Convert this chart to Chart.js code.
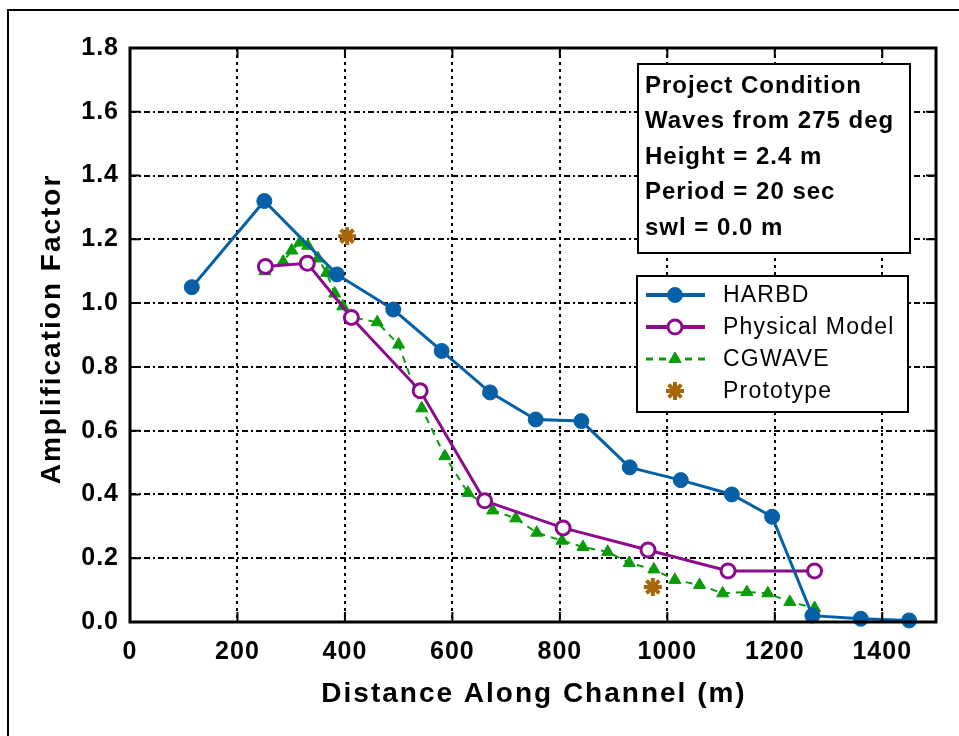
<!DOCTYPE html>
<html>
<head>
<meta charset="utf-8">
<script src="https://cdn.jsdelivr.net/npm/chart.js@4.4.1/dist/chart.umd.min.js"></script>
<style>
  html, body { margin: 0; padding: 0; background: #fff; overflow: hidden; }
  #wrap { position: relative; width: 959px; height: 736px; }
  #frame { position: absolute; left: 7px; top: 9px; width: 1000px; height: 800px; border: 2px solid #000; box-sizing: border-box; }
  canvas { position: absolute; left: 0; top: 0; }
</style>
</head>
<body>
<div id="wrap">
  <div id="frame"></div>
  <canvas id="chart" width="959" height="736"></canvas>
</div>
<script>
// values
const xTicks = [0, 200, 400, 600, 800, 1000, 1200, 1400];
const yTicks = [0, 0.2, 0.4, 0.6, 0.8, 1.0, 1.2, 1.4, 1.6, 1.8];

const harbdX = [115, 250, 385, 490, 580, 670, 755, 840, 930, 1025, 1120, 1195, 1270, 1360, 1450];
const harbdY = [1.05, 1.32, 1.09, 0.98, 0.85, 0.72, 0.635, 0.63, 0.485, 0.445, 0.40, 0.33, 0.02, 0.01, 0.005];

const physX = [252, 330, 412, 540, 660, 806, 964, 1113, 1274];
const physY = [1.115, 1.125, 0.955, 0.725, 0.38, 0.295, 0.226, 0.16, 0.16];

const cgwX = [251, 285, 301, 316, 331, 350, 366, 381, 396, 415, 460, 500, 543, 586, 629, 675, 718, 757, 804, 843, 889, 929, 975, 1014, 1060, 1103, 1148, 1187, 1228, 1274];
const cgwY = [1.10, 1.13, 1.165, 1.19, 1.18, 1.14, 1.095, 1.03, 0.99, 0.955, 0.94, 0.87, 0.67, 0.52, 0.405, 0.35, 0.325, 0.28, 0.255, 0.235, 0.22, 0.185, 0.165, 0.132, 0.116, 0.09, 0.094, 0.09, 0.063, 0.044];

const protoX = [404, 973];
const protoY = [1.21, 0.11];

const infoLines = ["Project Condition", "Waves from 275 deg", "Height = 2.4 m", "Period = 20 sec", "swl = 0.0 m"];

const BLUE = "#0560a8";
const PURPLE = "#8c0a8c";
const GREEN = "#0a9b0a";
const BROWN = "#a8650a";
const FONT = '"Liberation Sans", Arial, sans-serif';

function pts(xs, ys) {
  return xs.map((x, i) => ({ x, y: ys[i] }));
}

const datasets = [
  {
    label: "Prototype", data: pts(protoX, protoY), showLine: false,
    pointStyle: "star", pointRadius: 9, borderColor: BROWN, backgroundColor: BROWN,
    pointBorderWidth: 4, order: 0
  },
  {
    label: "HARBD", data: pts(harbdX, harbdY), borderColor: BLUE, backgroundColor: BLUE,
    borderWidth: 3, pointStyle: "circle", pointRadius: 7.5, pointBorderWidth: 1, order: 1
  },
  {
    label: "Physical Model", data: pts(physX, physY), borderColor: PURPLE, backgroundColor: "#fff",
    borderWidth: 3, pointStyle: "circle", pointRadius: 7, pointBorderWidth: 3, order: 2
  },
  {
    label: "CGWAVE", data: pts(cgwX, cgwY), borderColor: GREEN, backgroundColor: GREEN,
    borderWidth: 2, borderDash: [7, 6], pointStyle: "triangle", pointRadius: 7, pointBorderWidth: 1, order: 3
  }
];
datasets.forEach((d) => { d.tension = 0; d.clip = false; d.pointBorderColor = d.borderColor; d.pointBackgroundColor = d.backgroundColor; });

const legendOrder = ["HARBD", "Physical Model", "CGWAVE", "Prototype"];

function drawMarker(ctx, ds, x, y) {
  const opts = { pointStyle: ds.pointStyle, radius: ds.pointRadius, borderWidth: ds.pointBorderWidth, rotation: 0 };
  ctx.save();
  ctx.setLineDash([]);
  ctx.fillStyle = ds.backgroundColor;
  ctx.strokeStyle = ds.borderColor;
  ctx.lineWidth = ds.pointBorderWidth;
  Chart.helpers.drawPoint(ctx, opts, x, y);
  ctx.restore();
}

const decorPlugin = {
  id: "decor",
  beforeDraw(chart) {
    // the reference text is spaced out a little
    chart.ctx.letterSpacing = "1px";
  },
  afterDraw(chart) {
    const ctx = chart.ctx;
    const a = chart.chartArea;
    const xs = chart.scales.x;
    const ys = chart.scales.y;
    ctx.save();

    // inward ticks
    ctx.strokeStyle = "#000";
    ctx.lineWidth = 2;
    ctx.setLineDash([]);
    xTicks.forEach((v) => {
      const px = xs.getPixelForValue(v);
      ctx.beginPath();
      ctx.moveTo(px, a.bottom); ctx.lineTo(px, a.bottom - 10);
      ctx.moveTo(px, a.top); ctx.lineTo(px, a.top + 10);
      ctx.stroke();
    });
    yTicks.forEach((v) => {
      const py = ys.getPixelForValue(v);
      ctx.beginPath();
      ctx.moveTo(a.left, py); ctx.lineTo(a.left + 10, py);
      ctx.moveTo(a.right, py); ctx.lineTo(a.right - 10, py);
      ctx.stroke();
    });

    // plot frame
    ctx.lineWidth = 3;
    ctx.strokeRect(a.left, a.top, a.right - a.left, a.bottom - a.top);

    // axis titles
    ctx.fillStyle = "#000";
    ctx.font = "bold 28px " + FONT;
    ctx.letterSpacing = "2px";
    ctx.textAlign = "center";
    ctx.textBaseline = "middle";
    ctx.fillText("Distance Along Channel (m)", 534, 694);
    ctx.save();
    ctx.translate(52, 329);
    ctx.rotate(-Math.PI / 2);
    ctx.fillText("Amplification Factor", 0, 0);
    ctx.restore();

    // info box
    ctx.fillStyle = "#fff";
    ctx.fillRect(638, 64, 272, 189);
    ctx.lineWidth = 2;
    ctx.strokeRect(638, 64, 272, 189);
    ctx.fillStyle = "#000";
    ctx.font = "bold 24px " + FONT;
    ctx.letterSpacing = "1px";
    ctx.textAlign = "left";
    infoLines.forEach((t, i) => ctx.fillText(t, 645, 86 + i * 35.5));

    // legend
    ctx.fillStyle = "#fff";
    ctx.fillRect(637, 276, 271, 136);
    ctx.strokeRect(637, 276, 271, 136);
    ctx.font = "23px " + FONT;
    ctx.letterSpacing = "1.2px";
    legendOrder.forEach((name, i) => {
      const ds = datasets.find((d) => d.label === name);
      const y = 295 + i * 32;
      if (ds.showLine !== false) {
        ctx.save();
        ctx.strokeStyle = ds.borderColor;
        ctx.lineWidth = ds.borderWidth + 1;
        ctx.setLineDash(ds.borderDash || []);
        ctx.beginPath();
        ctx.moveTo(646, y); ctx.lineTo(705, y);
        ctx.stroke();
        ctx.restore();
      }
      drawMarker(ctx, ds, 675, y);
      ctx.fillStyle = "#000";
      ctx.fillText(name, 723, y + 1);
    });
    ctx.restore();
  }
};

new Chart(document.getElementById("chart"), {
  type: "line",
  data: { datasets },
  plugins: [decorPlugin],
  options: {
    responsive: false,
    animation: false,
    layout: { padding: { left: 0, top: 48, right: 23, bottom: 0 } },
    plugins: { legend: { display: false }, tooltip: { enabled: false } },
    scales: {
      x: {
        type: "linear", min: 0, max: 1500,
        afterBuildTicks: (s) => { s.ticks = xTicks.map((v) => ({ value: v })); },
        afterFit: (s) => { s.height = 114; },
        ticks: { color: "#000", padding: 15, font: { family: FONT, size: 25, weight: "bold" }, maxRotation: 0, autoSkip: false, callback: (v) => String(v) },
        grid: { color: "#000", lineWidth: 2, drawTicks: false },
        border: { display: false, dash: [3, 4] }
      },
      y: {
        type: "linear", min: 0, max: 1.8,
        afterBuildTicks: (s) => { s.ticks = yTicks.map((v) => ({ value: v })); },
        afterFit: (s) => { s.width = 130; },
        ticks: { color: "#000", padding: 11, font: { family: FONT, size: 25, weight: "bold" }, callback: (v) => Number(v).toFixed(1), autoSkip: false },
        grid: { color: "#000", lineWidth: 2, drawTicks: false },
        border: { display: false, dash: [6, 3, 2, 3] }
      }
    }
  }
});
</script>
</body>
</html>
